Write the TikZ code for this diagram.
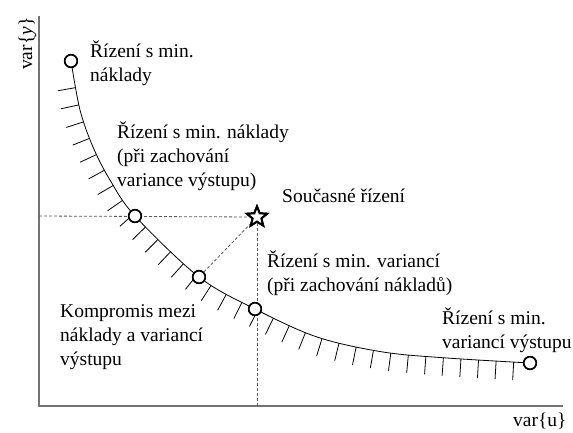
\documentclass[tikz,border=0pt]{standalone}
\usepackage{fontspec}
\setmainfont{Liberation Serif}
\usetikzlibrary{shapes.geometric,decorations.markings}
\tikzset{
  axis/.style={draw=black!55, line width=1.4pt},
  guide/.style={draw=black!65, line width=0.8pt, dash pattern=on 3pt off 2pt},
  front/.style={draw=black, line width=0.8pt,
    postaction={decorate, decoration={markings,
      mark=between positions 27pt and -14pt step 17.6pt with {\draw[line width=0.8pt] (0pt,0pt) -- (0pt,-18pt);}}}},
  pt/.style={circle, draw=black, fill=white, line width=1.6pt, minimum size=12.5pt, inner sep=0pt},
  starnode/.style={star, star points=5, star point ratio=2.3, draw=black, fill=white, line width=2pt, minimum size=21pt, inner sep=0pt},
  lbl/.style={font=\fontsize{19.5}{24}\selectfont, align=left, anchor=base west, inner sep=0pt}
}
\begin{document}
\begin{tikzpicture}[x=1pt,y=-1pt]
\useasboundingbox (0,0) rectangle (573,432);
% axes
\coordinate (o) at (39,406);
\coordinate (ytop) at (39,16);
\coordinate (xend) at (563,406);
\draw[axis] (ytop) -- (o) -- (xend);
\node[lbl, rotate=90] (vy) at (32,70) {var\{\textit{y}\}};
\node[lbl] (vu) at (513,426) {var\{u\}};
% points
\node[pt] (c1) at (71,61) {};
\node[pt] (c2) at (135,216) {};
\node[pt] (c3) at (199,277) {};
\node[pt] (c4) at (255,309) {};
\node[pt] (c5) at (530,363) {};
\node[starnode] (s) at (257,217) {};
\coordinate (ya) at (39,216);
\coordinate (xa) at (257,406);
% guides
\draw[guide] (ya) -- (s);
\draw[guide] (s) -- (xa);
\draw[guide] (c3) -- (s);
% front curve with hatching
\draw[front] plot[smooth, tension=0.55] coordinates {(71,61) (80,110) (93,147) (110,180) (135,216) (199,277) (255,309) (317,337) (383,352) (447,358) (530,363)};
% redraw markers on top
\node[pt] at (c1) {};
\node[pt] at (c2) {};
\node[pt] at (c3) {};
\node[pt] at (c4) {};
\node[pt] at (c5) {};
\node[starnode] at (s) {};
% labels (anchor = baseline of the last line)
\node[lbl] (l1) at (90,81) {Řízení s min.\\náklady};
\node[lbl] (l2) at (117,186) {Řízení s min. náklady\\(při zachování\\variance výstupu)};
\node[lbl] (l3) at (282,202) {Současné řízení};
\node[lbl] (l4) at (267,291) {Řízení s min. variancí\\(při zachování nákladů)};
\node[lbl] (l5) at (60,365) {Kompromis mezi\\náklady a variancí\\výstupu};
\node[lbl] (l6) at (442,348) {Řízení s min.\\variancí výstupu};
\end{tikzpicture}
\end{document}
